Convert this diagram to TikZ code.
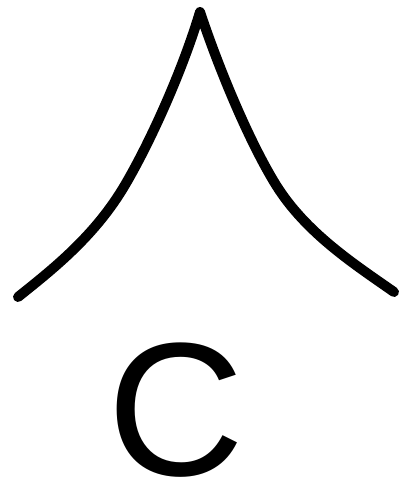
\documentclass[tikz,border=0pt]{standalone}
\usepackage{fontspec}
\setmainfont{Liberation Sans}
\tikzset{cuspline/.style={line width=10pt, line cap=round, line join=round, black}}
\begin{document}
\begin{tikzpicture}[x=1pt,y=1pt]
\useasboundingbox (0,0) rectangle (404,483);
\coordinate (L) at (18,186);
\coordinate (ML) at (125,298);
\coordinate (P) at (200,471);
\coordinate (MR) at (276,298);
\coordinate (R) at (394,191);
\draw[cuspline] (L) .. controls (53,214) and (95,247) .. (ML)
  .. controls (150,340.5) and (182,411) .. (P)
  .. controls (220,411) and (250,340) .. (MR)
  .. controls (306,250) and (354,219) .. (R);
\node[inner sep=0pt, anchor=base west, font=\fontsize{190}{190}\selectfont] (c) at (107.5,7) {C};
\end{tikzpicture}
\end{document}
